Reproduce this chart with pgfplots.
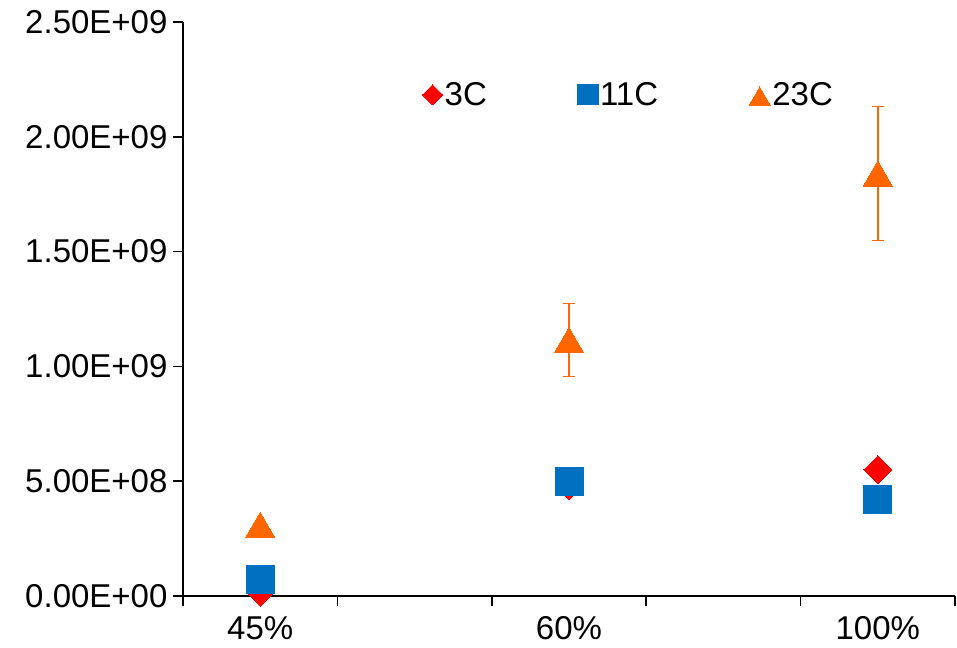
\documentclass[border=0pt]{standalone}
\usepackage{pgfplots}
\pgfplotsset{compat=1.18}
\usepackage{fontspec}
\setmainfont{Liberation Sans}
\definecolor{cred}{HTML}{FF0000}
\definecolor{cblue}{HTML}{0070C0}
\definecolor{corange}{HTML}{FF6600}
\begin{document}
\begin{tikzpicture}
\begin{axis}[
  scale only axis, width=772pt, height=574pt,
  xmin=0.75, xmax=3.25, ymin=0, ymax=2.5e9,
  axis x line*=bottom, axis y line*=left,
  axis line style={line width=1.6pt, black},
  xtick={0.75,1.25,1.75,2.25,2.75,3.25}, xticklabels={},
  extra x ticks={1,2,3}, extra x tick labels={45\%,60\%,100\%},
  extra x tick style={major tick length=0pt, xticklabel style={yshift=-17pt}},
  ytick={0,5e8,1e9,1.5e9,2e9,2.5e9},
  yticklabels={0.00E+00,5.00E+08,1.00E+09,1.50E+09,2.00E+09,2.50E+09},
  yticklabel style={xshift=-2pt},
  scaled y ticks=false,
  tick align=outside, major tick length=10pt,
  tick style={line width=1.6pt, black},
  tick label style={font=\fontsize{33}{38}\selectfont, black},
  clip=false,
  legend columns=3,
  legend style={at={(0.31,0.873)}, anchor=west, draw=none, fill=none,
    font=\fontsize{33}{38}\selectfont, inner sep=0pt,
    /tikz/every even column/.append style={column sep=89pt}},
  legend image code/.code={\draw[#1] plot coordinates {(0pt,0pt)};},
  legend image post style={/tikz/every mark/.append style={scale=0.72}},
]
\addplot[only marks, mark=square*, mark size=9.9pt,
  mark options={rotate=45, fill=cred, draw=cred, line width=0pt}]
  coordinates {(1,1.7e7) (2,4.8e8) (3,5.5e8)};
\addlegendentry{3C}
\addplot[only marks, mark=square*, mark size=14pt,
  mark options={fill=cblue, draw=cblue, line width=0pt}]
  coordinates {(1,7.0e7) (2,5.0e8) (3,4.2e8)};
\addlegendentry{11C}
\addplot[forget plot, draw=none, mark=none,
  error bars/.cd, y dir=both, y explicit,
  error bar style={line width=1.5pt, corange},
  error mark options={rotate=90, mark size=6pt, line width=1.5pt, corange}]
  coordinates {(2,1.115e9) +- (0,1.58e8) (3,1.84e9) +- (0,2.92e8)};
\addplot[only marks, mark=triangle*, mark size=17pt,
  mark options={yshift=-4.2pt, fill=corange, draw=corange, line width=0pt}]
  coordinates {(1,3.1e8) (2,1.115e9) (3,1.84e9)};
\addlegendentry{23C}
\end{axis}
\pgfresetboundingbox
\path (-183pt,-51pt) rectangle (774pt,596pt);
\end{tikzpicture}
\end{document}
